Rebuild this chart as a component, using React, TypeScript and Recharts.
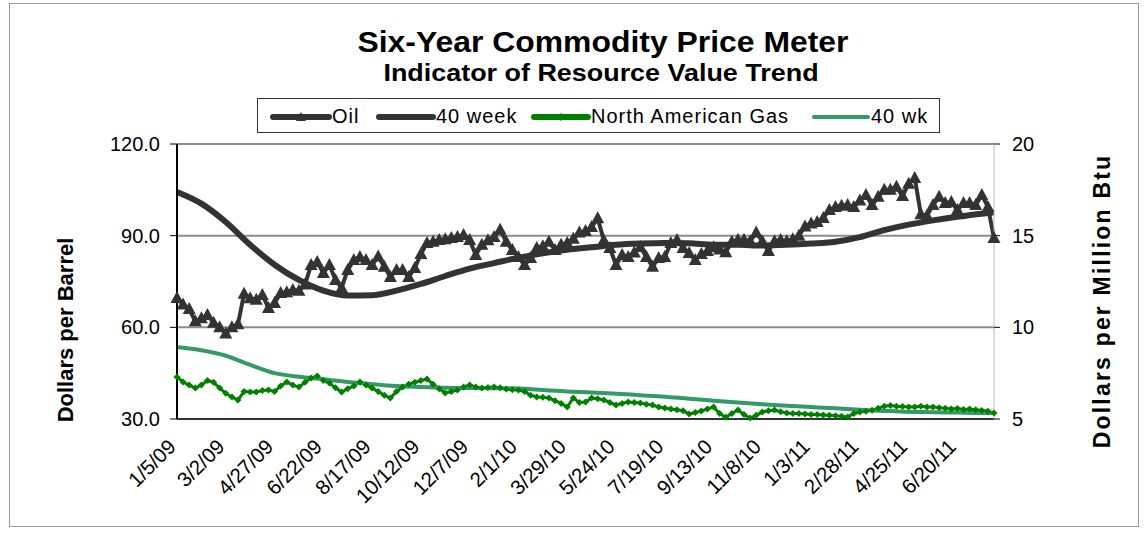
import { LineChart, Line, XAxis, YAxis, CartesianGrid } from "recharts";

// weekly readings, 1/5/09 .. 8/1/11
const oil = [
  69.6, 67.5, 66, 62, 63, 64, 61.5, 60, 58, 60,
  61, 71, 69.5, 69, 70.6, 66.3, 68, 71.2, 71.5, 72.2,
  72, 74, 80.4, 81.4, 77.8, 80.4, 75.5, 72.9, 78.8, 82,
  83, 82, 80.4, 83.2, 79.8, 76.5, 78.8, 78.8, 76.5, 79.4,
  84, 87.6, 88, 88.6, 88.8, 89.2, 89.6, 90.2, 88.6, 83.7,
  87, 88.5, 89.6, 91.9, 88, 85.3, 83, 80.4, 82.7, 86,
  86.5, 88, 85.3, 87, 87.6, 89, 91, 91.5, 92.8, 95.7,
  88.5, 86, 80.4, 83.7, 83, 84.5, 86.3, 83, 79.8, 82.7,
  83, 87.6, 88.6, 86, 84.3, 82, 84, 85, 86.2, 85.5,
  84.6, 88, 88.7, 88.7, 88.2, 91, 88.2, 85, 88.2, 88.6,
  88.2, 88.8, 90, 93, 94, 94.5, 95.8, 98.4, 99.4, 99.8,
  100, 99.4, 101.5, 103.3, 100, 102.7, 105, 105, 106, 103,
  107, 108.9, 97, 96.5, 100, 102.7, 100.7, 101, 98.4, 100.7,
  100.7, 100, 103.3, 99.4, 89.2,
];

const gas = [
  7.29, 7.02, 6.85, 6.69, 6.85, 7.1, 7.0, 6.69, 6.4, 6.2,
  6.04, 6.5, 6.47, 6.47, 6.55, 6.58, 6.5, 6.8, 7.02, 6.85,
  6.74, 7.0, 7.24, 7.34, 7.1, 6.96, 6.7, 6.47, 6.65, 6.8,
  7.02, 6.85, 6.69, 6.5, 6.3, 6.14, 6.5, 6.74, 6.9, 7.0,
  7.1, 7.18, 6.9, 6.65, 6.42, 6.5, 6.58, 6.75, 6.85, 6.75,
  6.69, 6.72, 6.74, 6.7, 6.64, 6.6, 6.58, 6.5, 6.3, 6.2,
  6.18, 6.14, 6.0, 5.85, 5.65, 6.14, 5.9, 5.93, 6.14, 6.1,
  6.04, 5.9, 5.76, 5.85, 5.93, 5.9, 5.87, 5.8, 5.76, 5.65,
  5.6, 5.55, 5.5, 5.45, 5.27, 5.35, 5.44, 5.55, 5.65, 5.3,
  5.1, 5.3, 5.49, 5.25, 5.05, 5.2, 5.38, 5.45, 5.49, 5.4,
  5.33, 5.3, 5.3, 5.27, 5.25, 5.25, 5.22, 5.2, 5.18, 5.15,
  5.11, 5.3, 5.38, 5.42, 5.48, 5.58, 5.7, 5.74, 5.7, 5.68,
  5.66, 5.66, 5.7, 5.65, 5.66, 5.62, 5.58, 5.55, 5.57, 5.52,
  5.55, 5.5, 5.46, 5.42, 5.33,
];

// 40-week averages, read every 4 weeks
const avgWeeks = [
  0, 4, 8, 12, 16, 20, 24, 28, 32, 36, 40, 44, 48, 52, 56, 60, 64, 68,
  72, 76, 80, 84, 88, 92, 96, 100, 104, 108, 112, 116, 120, 124, 128, 132, 134,
];
const oilAvg = [
  104.3, 100.5, 94.5, 87, 80.5, 75.5, 72, 70.4, 70.5, 72, 74.2, 76.8, 79.2, 81, 82.8, 84.2, 85.4, 86.2,
  87, 87.4, 87.6, 87.5, 87, 87, 86.8, 87, 87.4, 88, 89.5, 91.8, 93.6, 95, 96.2, 97.2, 97.6,
];
const gasAvg = [
  8.93, 8.75, 8.45, 7.95, 7.5, 7.3, 7.17, 7.02, 6.9, 6.8, 6.74, 6.7, 6.69, 6.68, 6.66, 6.58, 6.5, 6.45,
  6.38, 6.3, 6.22, 6.1, 6.0, 5.9, 5.8, 5.72, 5.65, 5.58, 5.5, 5.44, 5.39, 5.37, 5.35, 5.33, 5.33,
];

const tickLabels = [
  "1/5/09", "3/2/09", "4/27/09", "6/22/09", "8/17/09", "10/12/09", "12/7/09", "2/1/10", "3/29/10",
  "5/24/10", "7/19/10", "9/13/10", "11/8/10", "1/3/11", "2/28/11", "4/25/11", "6/20/11",
];
const tickWeeks = tickLabels.map((_, i) => i * 8);

const data = oil.map((value, week) => {
  const a = avgWeeks.indexOf(week);
  return {
    week,
    oil: value,
    gas: gas[week],
    oilAvg: a >= 0 ? oilAvg[a] : null,
    gasAvg: a >= 0 ? gasAvg[a] : null,
  };
});

const font = "Arial, 'Liberation Sans', sans-serif";

function TriangleDot(props: any) {
  const { cx, cy } = props;
  if (cx == null || cy == null) return null;
  return <path d={`M${cx},${cy - 7} L${cx + 6.5},${cy + 5} L${cx - 6.5},${cy + 5} Z`} fill="#333333" />;
}

function DiamondDot(props: any) {
  const { cx, cy } = props;
  if (cx == null || cy == null) return null;
  return <path d={`M${cx},${cy - 3.5} L${cx + 3.5},${cy} L${cx},${cy + 3.5} L${cx - 3.5},${cy} Z`} fill="#008000" />;
}

function DateTick(props: any) {
  const { x, y, payload } = props;
  const label = tickLabels[Math.round(payload.value / 8)];
  return (
    <g transform={`translate(${x},${y + 21})`}>
      <text x={0} y={0} textAnchor="end" transform="rotate(-45)" fontSize={20.5} fill="#000" fontFamily={font}>
        {label}
      </text>
    </g>
  );
}

function LegendItem({ left, width, color, stroke, marker, text }: any) {
  return (
    <div style={{ position: "absolute", left, top: 0, height: 35, display: "flex", alignItems: "center" }}>
      <svg width={width} height={14}>
        <line x1={3} y1={7} x2={width - 3} y2={7} stroke={color} strokeWidth={stroke} strokeLinecap="round" />
        {marker === "tri" && <path d={`M${width / 2},2 L${width / 2 + 5},11 L${width / 2 - 5},11 Z`} fill={color} />}
        {marker === "dia" && <path d={`M${width / 2},3 L${width / 2 + 4},7 L${width / 2},11 L${width / 2 - 4},7 Z`} fill={color} />}
      </svg>
      <span style={{ fontSize: 20, letterSpacing: 1, color: "#000" }}>{text}</span>
    </div>
  );
}

export default function App() {
  return (
    <div style={{ position: "relative", width: 1146, height: 533, fontFamily: font, background: "#fff", overflow: "hidden" }}>
      <style>{"body{margin:0}"}</style>
      <div style={{ position: "absolute", left: 9, top: 3, width: 1128, height: 522, border: "1px solid #999" }} />

      <div style={{ position: "absolute", left: 30, width: 1146, top: 26, textAlign: "center", fontWeight: "bold", fontSize: 29, transform: "scaleX(1.1)" }}>
        Six-Year Commodity Price Meter
      </div>
      <div style={{ position: "absolute", left: 28, width: 1146, top: 60, textAlign: "center", fontWeight: "bold", fontSize: 23, transform: "scaleX(1.17)" }}>
        Indicator of Resource Value Trend
      </div>

      <div style={{ position: "absolute", left: 257, top: 98, width: 683, height: 35, border: "1px solid #333", boxSizing: "border-box" }}>
        <LegendItem left={12} width={62} color="#333333" stroke={6} marker="tri" text="Oil" />
        <LegendItem left={118} width={60} color="#333333" stroke={6} text="40 week" />
        <LegendItem left={273} width={60} color="#008000" stroke={6} marker="dia" text="North American Gas" />
        <LegendItem left={553} width={60} color="#339966" stroke={4} text="40 wk" />
      </div>

      <LineChart width={1146} height={533} data={data} margin={{ top: 144, right: 92, left: 117, bottom: 24 }} style={{ position: "absolute", left: 0, top: 0 }}>
        <CartesianGrid yAxisId="left" vertical={false} stroke="#8c8c8c" strokeWidth={2} />
        <XAxis
          dataKey="week"
          type="number"
          domain={[0, 134]}
          ticks={tickWeeks}
          interval={0}
          height={90}
          tick={<DateTick />}
          tickLine={false}
          axisLine={{ stroke: "#333", strokeWidth: 2 }}
        />
        <YAxis
          yAxisId="left"
          domain={[30, 120]}
          ticks={[30, 60, 90, 120]}
          width={60}
          tickFormatter={(v: number) => v.toFixed(1)}
          tick={{ fill: "#000", fontSize: 20, fontFamily: font }}
          tickSize={7}
          tickMargin={10}
          tickLine={{ stroke: "#000" }}
          axisLine={{ stroke: "#000", strokeWidth: 2 }}
        />
        <YAxis
          yAxisId="right"
          orientation="right"
          domain={[5, 20]}
          ticks={[5, 10, 15, 20]}
          width={60}
          tick={{ fill: "#000", fontSize: 20, fontFamily: font, textAnchor: "start" }}
          tickSize={6}
          tickMargin={12}
          tickLine={{ stroke: "#000" }}
          axisLine={{ stroke: "#bbb", strokeWidth: 1 }}
        />
        <Line yAxisId="left" dataKey="oil" stroke="#333333" strokeWidth={4} dot={<TriangleDot />} activeDot={false} isAnimationActive={false} />
        <Line yAxisId="left" dataKey="oilAvg" type="monotone" stroke="#333333" strokeWidth={6} dot={false} connectNulls isAnimationActive={false} />
        <Line yAxisId="right" dataKey="gas" stroke="#008000" strokeWidth={3} dot={<DiamondDot />} activeDot={false} isAnimationActive={false} />
        <Line yAxisId="right" dataKey="gasAvg" type="monotone" stroke="#339966" strokeWidth={4} dot={false} connectNulls isAnimationActive={false} />
      </LineChart>

      <div style={{ position: "absolute", left: 66, top: 330, transform: "translate(-50%,-50%) rotate(-90deg)", whiteSpace: "nowrap", fontWeight: "bold", fontSize: 22 }}>
        Dollars per Barrel
      </div>
      <div style={{ position: "absolute", left: 1102, top: 301, transform: "translate(-50%,-50%) rotate(-90deg)", whiteSpace: "nowrap", fontWeight: "bold", fontSize: 23, letterSpacing: 2.2 }}>
        Dollars per Million Btu
      </div>
    </div>
  );
}
